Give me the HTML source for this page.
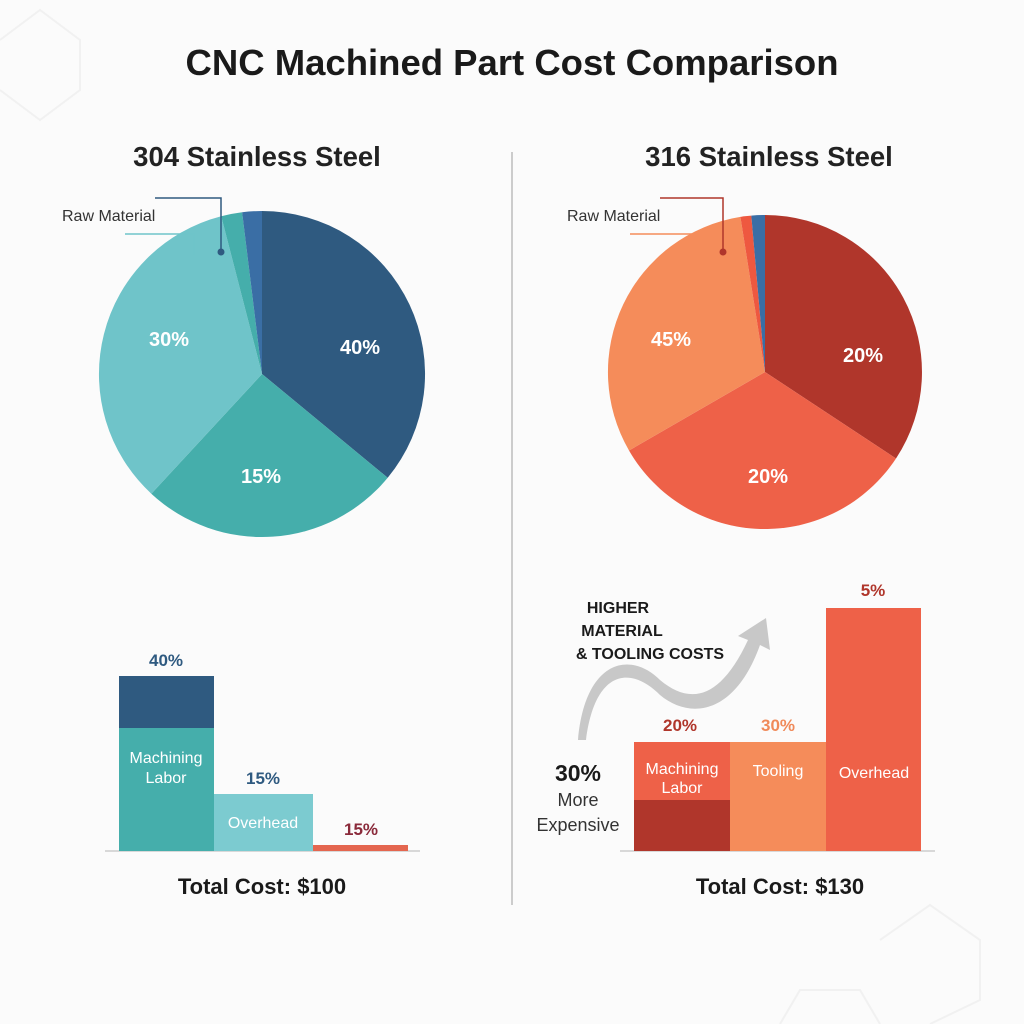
<!DOCTYPE html>
<html><head><style>
body{margin:0;background:#fbfbfb;}
svg{display:block;font-family:"Liberation Sans",Arial,sans-serif;}
</style></head><body>
<svg width="1024" height="1024" viewBox="0 0 1024 1024">
<rect width="1024" height="1024" fill="#fbfbfb"/>
<g fill="none" stroke="#f1f1f1" stroke-width="2">
<path d="M0 40 L40 10 L80 40 L80 90 L40 120 L0 90"/>
<path d="M880 940 L930 905 L980 940 L980 1000 L930 1024"/>
<path d="M780 1024 L800 990 L860 990 L880 1024"/>
</g>
<text x="512" y="75" text-anchor="middle" font-size="36.5" font-weight="bold" fill="#1a1a1a">CNC Machined Part Cost Comparison</text>
<line x1="512" y1="152" x2="512" y2="905" stroke="#cccccc" stroke-width="2"/>
<text x="257" y="166" text-anchor="middle" font-size="27.5" font-weight="bold" fill="#222">304 Stainless Steel</text>
<text x="769" y="166" text-anchor="middle" font-size="27.5" font-weight="bold" fill="#222">316 Stainless Steel</text>
<path d="M262 374 L262 211 A163 163 0 0 1 387.7 477.8 Z" fill="#2f5a80"/>
<path d="M262 374 L387.7 477.8 A163 163 0 0 1 151.3 493.7 Z" fill="#45aeab"/>
<path d="M262 374 L151.3 493.7 A163 163 0 0 1 221.2 216.2 Z" fill="#6fc4c9"/>
<path d="M262 374 L221.2 216.2 A163 163 0 0 1 242.1 212.2 Z" fill="#45aeab"/>
<path d="M262 374 L242.1 212.2 A163 163 0 0 1 262 211 Z" fill="#3a6ea5"/>
<text x="169" y="346" text-anchor="middle" font-size="20" font-weight="bold" fill="#fff">30%</text>
<text x="360" y="354" text-anchor="middle" font-size="20" font-weight="bold" fill="#fff">40%</text>
<text x="261" y="483" text-anchor="middle" font-size="20" font-weight="bold" fill="#fff">15%</text>
<text x="62" y="221" font-size="16" fill="#333">Raw Material</text>
<path d="M155 198 H221 V251" fill="none" stroke="#2f5a80" stroke-width="1.5"/>
<circle cx="221" cy="252" r="3.5" fill="#2f5a80"/>
<path d="M125 234 H194 V255" fill="none" stroke="#6fc4c9" stroke-width="1.5"/>
<path d="M765 372 L765 215 A157 157 0 0 1 896 458.5 Z" fill="#b0362b"/>
<path d="M765 372 L896 458.5 A157 157 0 0 1 629 450.5 Z" fill="#ee6148"/>
<path d="M765 372 L629 450.5 A157 157 0 0 1 740.4 216.9 Z" fill="#f58c5a"/>
<path d="M765 372 L740.4 216.9 A157 157 0 0 1 751.3 215.6 Z" fill="#ee5840"/>
<path d="M765 372 L751.3 215.6 A157 157 0 0 1 765 215 Z" fill="#3a6ea5"/>
<text x="671" y="346" text-anchor="middle" font-size="20" font-weight="bold" fill="#fff">45%</text>
<text x="863" y="362" text-anchor="middle" font-size="20" font-weight="bold" fill="#fff">20%</text>
<text x="768" y="483" text-anchor="middle" font-size="20" font-weight="bold" fill="#fff">20%</text>
<text x="567" y="221" font-size="16" fill="#333">Raw Material</text>
<path d="M660 198 H723 V251" fill="none" stroke="#b0362b" stroke-width="1.5"/>
<circle cx="723" cy="252" r="3.5" fill="#b0362b"/>
<path d="M630 234 H697 V255" fill="none" stroke="#f58c5a" stroke-width="1.5"/>
<line x1="105" y1="851" x2="420" y2="851" stroke="#cccccc" stroke-width="1.5"/>
<rect x="119" y="676" width="95" height="52" fill="#2f5a80"/>
<rect x="119" y="728" width="95" height="123" fill="#45aeab"/>
<rect x="214" y="794" width="99" height="57" fill="#7ccbd0"/>
<rect x="313" y="845" width="95" height="6" fill="#e4664f"/>
<text x="166" y="666" text-anchor="middle" font-size="17" font-weight="bold" fill="#2f5a80">40%</text>
<text x="166" y="763" text-anchor="middle" font-size="16" fill="#fff">Machining</text>
<text x="166" y="783" text-anchor="middle" font-size="16" fill="#fff">Labor</text>
<text x="263" y="784" text-anchor="middle" font-size="17" font-weight="bold" fill="#2f5a80">15%</text>
<text x="263" y="828" text-anchor="middle" font-size="16" fill="#fff">Overhead</text>
<text x="361" y="835" text-anchor="middle" font-size="17" font-weight="bold" fill="#8a2a3a">15%</text>
<text x="262" y="894" text-anchor="middle" font-size="22" font-weight="bold" fill="#1a1a1a">Total Cost: $100</text>
<line x1="620" y1="851" x2="935" y2="851" stroke="#cccccc" stroke-width="1.5"/>
<rect x="634" y="742" width="96" height="58" fill="#ee6148"/>
<rect x="634" y="800" width="96" height="51" fill="#b0362b"/>
<rect x="730" y="742" width="96" height="109" fill="#f58c5a"/>
<rect x="826" y="608" width="95" height="243" fill="#ee6148"/>
<text x="680" y="731" text-anchor="middle" font-size="17" font-weight="bold" fill="#b0362b">20%</text>
<text x="778" y="731" text-anchor="middle" font-size="17" font-weight="bold" fill="#f08a5a">30%</text>
<text x="873" y="596" text-anchor="middle" font-size="17" font-weight="bold" fill="#b0362b">5%</text>
<text x="682" y="774" text-anchor="middle" font-size="16" fill="#fff">Machining</text>
<text x="682" y="793" text-anchor="middle" font-size="16" fill="#fff">Labor</text>
<text x="778" y="776" text-anchor="middle" font-size="16" fill="#fff">Tooling</text>
<text x="874" y="778" text-anchor="middle" font-size="16" fill="#fff">Overhead</text>
<path d="M578 740 C585 660 630 650 660 680 C690 705 720 700 748 640 L738 636 L766 618 L770 650 L760 645 C735 715 690 720 660 695 C630 665 595 670 586 740 Z" fill="#c8c8c8"/>
<text x="618" y="613" text-anchor="middle" font-size="16" font-weight="bold" fill="#1a1a1a">HIGHER</text>
<text x="622" y="636" text-anchor="middle" font-size="16" font-weight="bold" fill="#1a1a1a">MATERIAL</text>
<text x="650" y="659" text-anchor="middle" font-size="16" font-weight="bold" fill="#1a1a1a">&amp; TOOLING COSTS</text>
<text x="578" y="781" text-anchor="middle" font-size="23" font-weight="bold" fill="#1a1a1a">30%</text>
<text x="578" y="806" text-anchor="middle" font-size="18" fill="#333">More</text>
<text x="578" y="831" text-anchor="middle" font-size="18" fill="#333">Expensive</text>
<text x="780" y="894" text-anchor="middle" font-size="22" font-weight="bold" fill="#1a1a1a">Total Cost: $130</text>
</svg>
</body></html>
